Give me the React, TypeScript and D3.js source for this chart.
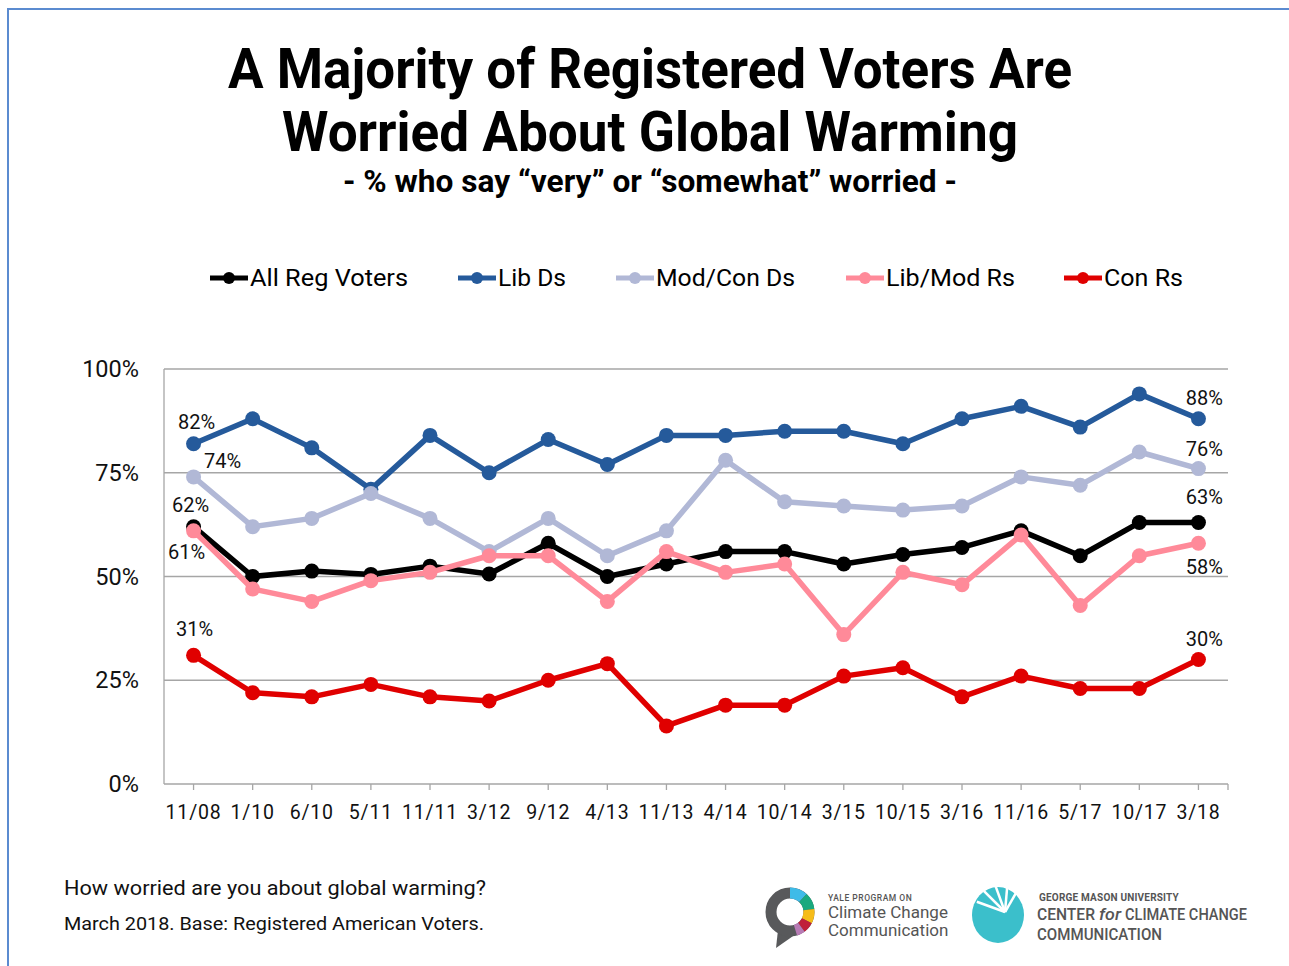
import React from "react";
import * as d3 from "d3";

const categories = ["11/08","1/10","6/10","5/11","11/11","3/12","9/12","4/13","11/13","4/14","10/14","3/15","10/15","3/16","11/16","5/17","10/17","3/18"];
const allRegVoters = [62,50,51.3,50.5,52.5,50.6,58,50,53,56,56,53,55.3,57,61,55,63,63];
const libDs = [82,88,81,71,84,75,83,77,84,84,85,85,82,88,91,86,94,88];
const modConDs = [74,62,64,70,64,56,64,55,61,78,68,67,66,67,74,72,80,76];
const libModRs = [61,47,44,49,51,55,55,44,56,51,53,36,51,48,60,43,55,58];
const conRs = [31,22,21,24,21,20,25,29,14,19,19,26,28,21,26,23,23,30];
const yTicks = [0,25,50,75,100];
const seriesNames = ["All Reg Voters","Lib Ds","Mod/Con Ds","Lib/Mod Rs","Con Rs"];
const seriesColors = ["#000000","#255A9B","#B1B8D6","#FF8A99","#E00000"];
const seriesValues = [allRegVoters, libDs, modConDs, libModRs, conRs];

const W = 1289, H = 966;
const plotL = 164, plotR = 1228, plotT = 369, plotB = 784;

export default function App() {
  const x = d3.scaleBand<string>().domain(categories).range([plotL, plotR]);
  const xc = (c: string) => (x(c) as number) + x.bandwidth() / 2;
  const y = d3.scaleLinear().domain([0, 100]).range([plotB, plotT]);
  const line = d3.line<number>().x((_, i) => xc(categories[i])).y((v) => y(v));
  const font = "Roboto, 'Noto Sans', sans-serif";

  const legendItems = [
    { m: 210, t: 250, tw: 158 },
    { m: 458, t: 498, tw: 68 },
    { m: 616, t: 656, tw: 139 },
    { m: 846, t: 886, tw: 129 },
    { m: 1064, t: 1104, tw: 79 },
  ];

  const first = categories[0];
  const last = categories[categories.length - 1];
  const n = categories.length - 1;
  const leftLabels = [
    { v: libDs[0], dx: 3, dy: -15 },
    { v: modConDs[0], dx: 29, dy: -9 },
    { v: allRegVoters[0], dx: -3, dy: -15 },
    { v: libModRs[0], dx: -7, dy: 28 },
    { v: conRs[0], dx: 1, dy: -19 },
  ];
  const rightLabels = [
    { v: libDs[n], dy: -14 },
    { v: modConDs[n], dy: -13 },
    { v: allRegVoters[n], dy: -19 },
    { v: libModRs[n], dy: 31 },
    { v: conRs[n], dy: -14 },
  ];

  const arc = d3.arc();
  const ringCx = 790, ringCy = 912;
  const ringSegs = [
    { s: 0, e: 0.75, c: "#3EBBE8" },
    { s: 0.75, e: 1.45, c: "#19A97E" },
    { s: 1.45, e: 2.05, c: "#F6BC19" },
    { s: 2.05, e: 2.5, c: "#C0203A" },
    { s: 2.5, e: 2.85, c: "#B77BB5" },
  ];

  return (
    <svg width={W} height={H} style={{ position: "absolute", left: 0, top: 0, background: "#fff" }} fontFamily={font}>
      <rect x={0} y={0} width={W} height={H} fill="#fff" />
      <line x1={8} y1={9} x2={W} y2={9} stroke="#5B8BD0" strokeWidth={2} />
      <line x1={8} y1={8} x2={8} y2={H} stroke="#5B8BD0" strokeWidth={2} />

      <text x={650} y={88} textAnchor="middle" fontSize={56} fontWeight={700} textLength={844} lengthAdjust="spacingAndGlyphs">A Majority of Registered Voters Are</text>
      <text x={650} y={151} textAnchor="middle" fontSize={56} fontWeight={700} textLength={736} lengthAdjust="spacingAndGlyphs">Worried About Global Warming</text>
      <text x={650} y={192} textAnchor="middle" fontSize={31} fontWeight={700} textLength={614} lengthAdjust="spacingAndGlyphs">- % who say “very” or “somewhat” worried -</text>

      {legendItems.map((it, i) => (
        <g key={seriesNames[i]}>
          <line x1={it.m} x2={it.m + 38} y1={278} y2={278} stroke={seriesColors[i]} strokeWidth={5} />
          <circle cx={it.m + 19} cy={278} r={6} fill={seriesColors[i]} />
          <text x={it.t} y={286} fontSize={23} textLength={it.tw} lengthAdjust="spacingAndGlyphs">{seriesNames[i]}</text>
        </g>
      ))}

      {yTicks.filter((t) => t > 0).map((t) => (
        <line key={t} x1={plotL} x2={plotR} y1={y(t)} y2={y(t)} stroke="#A6A6A6" strokeWidth={1.3} />
      ))}
      <line x1={plotL} x2={plotL} y1={plotT} y2={plotB} stroke="#A6A6A6" strokeWidth={1.3} />
      <line x1={plotL} x2={plotR} y1={plotB} y2={plotB} stroke="#A6A6A6" strokeWidth={1.3} />
      {categories.map((c) => (
        <line key={c} x1={xc(c)} x2={xc(c)} y1={plotB} y2={plotB + 6} stroke="#A6A6A6" strokeWidth={1.3} />
      ))}
      <line x1={plotR} x2={plotR} y1={plotB} y2={plotB + 6} stroke="#A6A6A6" strokeWidth={1.3} />

      {yTicks.map((t) => (
        <text key={t} x={139} y={y(t) + 8} textAnchor="end" fontSize={23.5} fill="#111">{t}%</text>
      ))}
      {categories.map((c) => (
        <text key={c} x={xc(c)} y={819} textAnchor="middle" fontSize={19.5} fill="#111" letterSpacing={0.8}>{c}</text>
      ))}

      {seriesValues.map((vals, i) => (
        <g key={seriesNames[i]}>
          <path d={line(vals) as string} fill="none" stroke={seriesColors[i]} strokeWidth={5.5} strokeLinejoin="round" />
          {vals.map((v, j) => (
            <circle key={j} cx={xc(categories[j])} cy={y(v)} r={7.5} fill={seriesColors[i]} />
          ))}
        </g>
      ))}

      {leftLabels.map((l, i) => (
        <text key={"l" + i} x={xc(first) + l.dx} y={y(l.v) + l.dy} textAnchor="middle" fontSize={20} fill="#111">{Math.round(l.v)}%</text>
      ))}
      {rightLabels.map((l, i) => (
        <text key={"r" + i} x={xc(last) + 6} y={y(l.v) + l.dy} textAnchor="middle" fontSize={20} fill="#111">{Math.round(l.v)}%</text>
      ))}

      <text x={64} y={895} fontSize={21} fill="#111" textLength={422} lengthAdjust="spacingAndGlyphs">How worried are you about global warming?</text>
      <text x={64} y={930} fontSize={19} fill="#111" textLength={420} lengthAdjust="spacingAndGlyphs">March 2018. Base: Registered American Voters.</text>

      <g>
        <path d={`M ${ringCx - 12} ${ringCy + 18} L ${ringCx - 14} ${ringCy + 36} L ${ringCx + 6} ${ringCy + 22} Z`} fill="#58595B" />
        <circle cx={ringCx} cy={ringCy} r={19} fill="none" stroke="#58595B" strokeWidth={11} />
        {ringSegs.map((s, i) => (
          <path key={i} transform={`translate(${ringCx},${ringCy})`} d={arc({ innerRadius: 13.5, outerRadius: 24.5, startAngle: s.s, endAngle: s.e }) as string} fill={s.c} />
        ))}
        <text x={828} y={901} fontSize={8.5} fill="#555" fontWeight={500} letterSpacing={0.5}>YALE PROGRAM ON</text>
        <text x={828} y={918} fontSize={17} fill="#555">Climate Change</text>
        <text x={828} y={936} fontSize={17} fill="#555">Communication</text>
      </g>
      <g>
        <ellipse cx={998} cy={915} rx={26} ry={28} fill="#3BBFCB" />
        {[200, 225, 250, 275, 300].map((a) => {
          const r = (a * Math.PI) / 180;
          return <line key={a} x1={1005} y1={912} x2={1005 + 30 * Math.cos(r)} y2={912 + 30 * Math.sin(r)} stroke="#fff" strokeWidth={2.5} />;
        })}
        <text x={1039} y={901} fontSize={10} fill="#555" fontWeight={700} letterSpacing={0.2}>GEORGE MASON UNIVERSITY</text>
        <text x={1037} y={920} fontSize={16.5} fill="#555" fontWeight={500} textLength={58} lengthAdjust="spacingAndGlyphs">CENTER</text>
        <text x={1099} y={920} fontSize={16.5} fill="#555" fontWeight={500} fontStyle="italic" textLength={22} lengthAdjust="spacingAndGlyphs">for</text>
        <text x={1125} y={920} fontSize={16.5} fill="#555" fontWeight={500} textLength={122} lengthAdjust="spacingAndGlyphs">CLIMATE CHANGE</text>
        <text x={1037} y={940} fontSize={16.5} fill="#555" fontWeight={500} textLength={125} lengthAdjust="spacingAndGlyphs">COMMUNICATION</text>
      </g>
    </svg>
  );
}
